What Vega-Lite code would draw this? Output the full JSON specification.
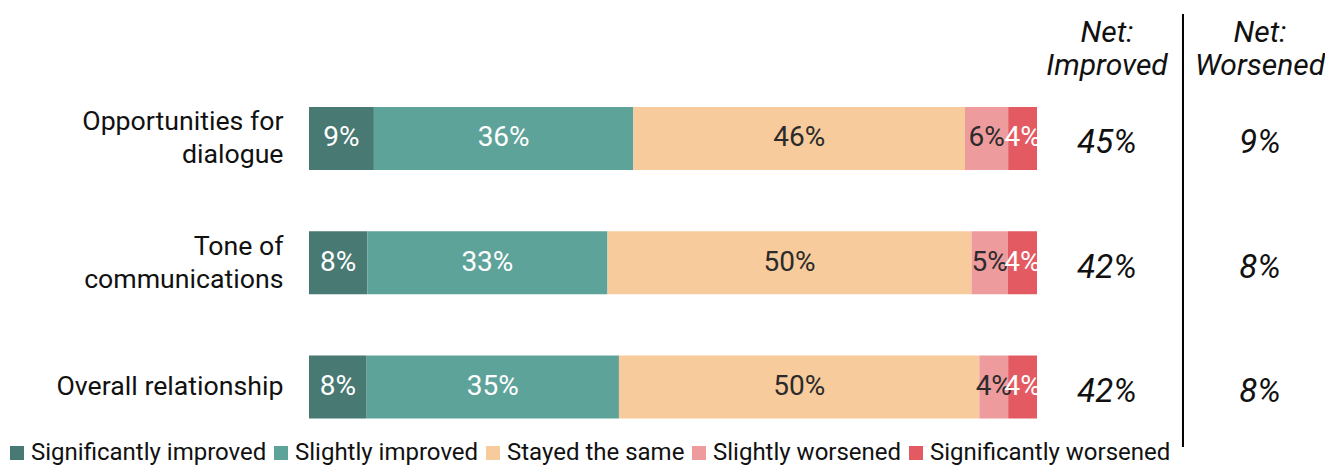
{
  "$schema": "https://vega.github.io/schema/vega-lite/v6.json",
  "autosize": "none",
  "width": 1004,
  "height": 433,
  "padding": {"left": 309, "top": 14, "right": 12, "bottom": 18},
  "config": {"view": {"stroke": null}, "font": "Roboto", "text": {"font": "Roboto"}},
  "datasets": {
    "resp": [
      {"item": "Opportunities for dialogue", "response": "Significantly improved", "order": 1, "value": 9},
      {"item": "Opportunities for dialogue", "response": "Slightly improved", "order": 2, "value": 36},
      {"item": "Opportunities for dialogue", "response": "Stayed the same", "order": 3, "value": 46},
      {"item": "Opportunities for dialogue", "response": "Slightly worsened", "order": 4, "value": 6},
      {"item": "Opportunities for dialogue", "response": "Significantly worsened", "order": 5, "value": 4},
      {"item": "Tone of communications", "response": "Significantly improved", "order": 1, "value": 8},
      {"item": "Tone of communications", "response": "Slightly improved", "order": 2, "value": 33},
      {"item": "Tone of communications", "response": "Stayed the same", "order": 3, "value": 50},
      {"item": "Tone of communications", "response": "Slightly worsened", "order": 4, "value": 5},
      {"item": "Tone of communications", "response": "Significantly worsened", "order": 5, "value": 4},
      {"item": "Overall relationship", "response": "Significantly improved", "order": 1, "value": 8},
      {"item": "Overall relationship", "response": "Slightly improved", "order": 2, "value": 35},
      {"item": "Overall relationship", "response": "Stayed the same", "order": 3, "value": 50},
      {"item": "Overall relationship", "response": "Slightly worsened", "order": 4, "value": 4},
      {"item": "Overall relationship", "response": "Significantly worsened", "order": 5, "value": 4}
    ],
    "net": [
      {"item": "Opportunities for dialogue", "improved": 45, "worsened": 9},
      {"item": "Tone of communications", "improved": 42, "worsened": 8},
      {"item": "Overall relationship", "improved": 42, "worsened": 8}
    ]
  },
  "layer": [
    {
      "data": {"name": "resp"},
      "transform": [
        {"stack": "value", "groupby": ["item"], "sort": [{"field": "order"}], "offset": "normalize", "as": ["x0", "x1"]}
      ],
      "mark": {"type": "bar"},
      "encoding": {
        "x": {"field": "x0", "type": "quantitative", "scale": {"domain": [0, 1.3791], "nice": false, "zero": false}, "axis": null},
        "x2": {"field": "x1"},
        "y": {
          "field": "item", "type": "nominal",
          "sort": ["Opportunities for dialogue", "Tone of communications", "Overall relationship"],
          "scale": {"paddingInner": 0.493, "paddingOuter": 0.488, "align": 0.766},
          "axis": {
            "title": null, "domain": false, "ticks": false, "labelPadding": 26,
            "labelFont": "Roboto", "labelFontSize": 26.7, "labelColor": "#111111", "labelLineHeight": 33,
            "labelLimit": 400,
            "labelOffset": {"condition": {"test": "datum.value == 'Overall relationship'", "value": 0}, "value": -16},
            "labelExpr": "datum.label == 'Opportunities for dialogue' ? ['Opportunities for', 'dialogue'] : datum.label == 'Tone of communications' ? ['Tone of', 'communications'] : datum.label"
          }
        },
        "color": {
          "field": "response", "type": "nominal",
          "scale": {
            "domain": ["Significantly improved", "Slightly improved", "Stayed the same", "Slightly worsened", "Significantly worsened"],
            "range": ["#487972", "#5ea39a", "#f8cb9c", "#ee9b9e", "#e35a62"]
          },
          "legend": {
            "title": null, "orient": "none", "direction": "horizontal", "columns": 5,
            "legendX": -304, "legendY": 427,
            "symbolType": "square", "symbolSize": 196, "symbolStrokeWidth": 0, "symbolOpacity": 1,
            "labelFont": "Roboto", "labelFontSize": 24, "labelColor": "#111111",
            "labelOffset": 2, "columnPadding": 2, "labelLimit": 400
          }
        }
      }
    },
    {
      "data": {"name": "resp"},
      "transform": [
        {"stack": "value", "groupby": ["item"], "sort": [{"field": "order"}], "offset": "normalize", "as": ["x0", "x1"]},
        {"calculate": "(datum.x0 + datum.x1) / 2", "as": "mid"},
        {"calculate": "datum.value + '%'", "as": "label"}
      ],
      "mark": {"type": "text", "fontSize": 28, "font": "Roboto", "align": "center", "baseline": "middle"},
      "encoding": {
        "x": {"field": "mid", "type": "quantitative"},
        "y": {"field": "item", "type": "nominal", "sort": ["Opportunities for dialogue", "Tone of communications", "Overall relationship"]},
        "text": {"field": "label"},
        "color": {
          "condition": {"test": "datum.response == 'Stayed the same' || datum.response == 'Slightly worsened'", "value": "#2b2b2b"},
          "value": "#ffffff"
        }
      }
    },
    {
      "data": {"name": "net"},
      "transform": [{"calculate": "datum.improved + '%'", "as": "label"}],
      "mark": {"type": "text", "fontSize": 33, "font": "Roboto", "fontStyle": "italic", "align": "center", "baseline": "middle", "dy": 5, "color": "#111111"},
      "encoding": {
        "x": {"datum": 1.0962},
        "y": {"field": "item", "type": "nominal", "sort": ["Opportunities for dialogue", "Tone of communications", "Overall relationship"]},
        "text": {"field": "label"}
      }
    },
    {
      "data": {"name": "net"},
      "transform": [{"calculate": "datum.worsened + '%'", "as": "label"}],
      "mark": {"type": "text", "fontSize": 33, "font": "Roboto", "fontStyle": "italic", "align": "center", "baseline": "middle", "dy": 5, "color": "#111111"},
      "encoding": {
        "x": {"datum": 1.3063},
        "y": {"field": "item", "type": "nominal", "sort": ["Opportunities for dialogue", "Tone of communications", "Overall relationship"]},
        "text": {"field": "label"}
      }
    },
    {
      "data": {"values": [{"h": "Net: Improved"}]},
      "mark": {"type": "text", "fontSize": 30, "font": "Roboto", "fontStyle": "italic", "align": "center", "baseline": "middle", "lineHeight": 33, "dy": -105, "color": "#111111"},
      "encoding": {
        "x": {"datum": 1.0962},
        "y": {"datum": "Opportunities for dialogue", "type": "nominal"},
        "text": {"value": ["Net:", "Improved"]}
      }
    },
    {
      "data": {"values": [{"h": "Net: Worsened"}]},
      "mark": {"type": "text", "fontSize": 30, "font": "Roboto", "fontStyle": "italic", "align": "center", "baseline": "middle", "lineHeight": 33, "dy": -105, "color": "#111111"},
      "encoding": {
        "x": {"datum": 1.3063},
        "y": {"datum": "Opportunities for dialogue", "type": "nominal"},
        "text": {"value": ["Net:", "Worsened"]}
      }
    },
    {
      "data": {"values": [{"r": 1}]},
      "mark": {"type": "rule", "color": "#000000", "strokeWidth": 2},
      "encoding": {
        "x": {"datum": 1.2005}
      }
    }
  ]
}
